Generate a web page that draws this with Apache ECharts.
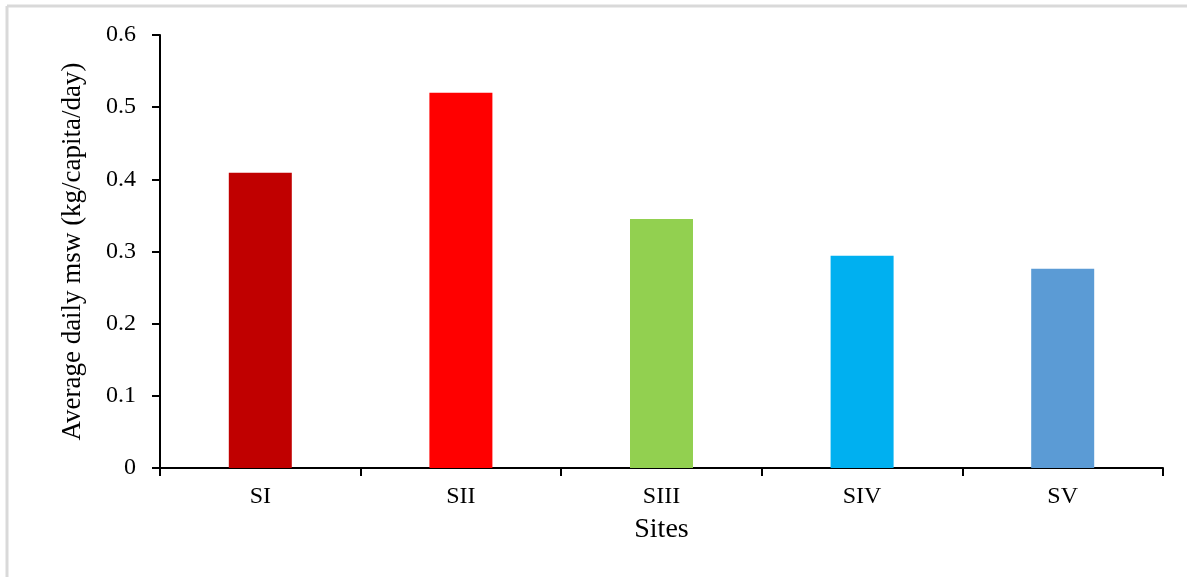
<!DOCTYPE html>
<html>
<head>
<meta charset="utf-8">
<script src="https://cdn.jsdelivr.net/npm/echarts@6/dist/echarts.min.js"></script>
<style>
  html, body { margin: 0; padding: 0; background: #fff; }
  #main { width: 1187px; height: 577px; }
</style>
</head>
<body>
<div id="main"></div>
<script>
// 数据
const sites = ['SI', 'SII', 'SIII', 'SIV', 'SV'];
const avgMsw = [0.409, 0.520, 0.345, 0.294, 0.276];
const barColors = ['#C00000', '#FF0000', '#92D050', '#00B0F0', '#5B9BD5'];

const chart = echarts.init(document.getElementById('main'), null, { renderer: 'canvas' });

const serif = '"Liberation Serif", "DejaVu Serif", serif';

const option = {
  animation: false,
  backgroundColor: '#fff',
  // 外框（只有上边和左边）
  graphic: [
    { type: 'line', shape: { x1: 7, y1: 6, x2: 1187, y2: 6 }, style: { stroke: '#d9d9d9', lineWidth: 3 } },
    { type: 'line', shape: { x1: 7, y1: 6, x2: 7, y2: 577 }, style: { stroke: '#d9d9d9', lineWidth: 3 } }
  ],
  grid: {
    left: 160,
    right: 24,
    top: 35,
    bottom: 109
  },
  xAxis: {
    type: 'category',
    data: sites,
    name: 'Sites',
    nameLocation: 'middle',
    nameGap: 48,
    nameTextStyle: { fontFamily: serif, fontSize: 28, color: '#000' },
    axisLine: { lineStyle: { color: '#000', width: 2 } },
    axisTick: { show: true, length: 8, lineStyle: { color: '#000', width: 2 } },
    axisLabel: { fontFamily: serif, fontSize: 24, color: '#000', margin: 17 }
  },
  yAxis: {
    type: 'value',
    min: 0,
    max: 0.6,
    interval: 0.1,
    name: 'Average daily msw (kg/capita/day)',
    nameLocation: 'middle',
    nameGap: 74,
    nameTextStyle: { fontFamily: serif, fontSize: 27, color: '#000' },
    splitLine: { show: false },
    axisLine: { show: true, lineStyle: { color: '#000', width: 2 } },
    axisTick: { show: true, length: 8, lineStyle: { color: '#000', width: 2 } },
    axisLabel: {
      fontFamily: serif, fontSize: 24, color: '#000', margin: 24,
      formatter: v => (v === 0 ? '0' : v.toFixed(1))
    }
  },
  series: [{
    type: 'bar',
    barWidth: 63,
    data: avgMsw.map((v, i) => ({ value: v, itemStyle: { color: barColors[i] } }))
  }]
};

chart.setOption(option);
</script>
</body>
</html>
